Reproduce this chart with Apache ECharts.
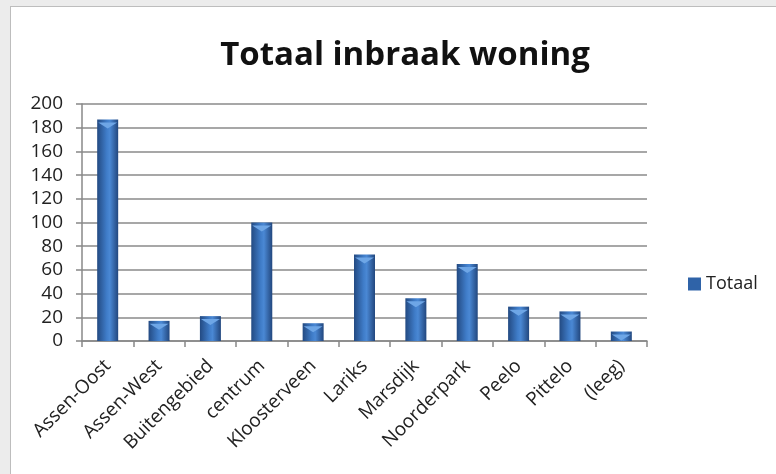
<!DOCTYPE html>
<html>
<head>
<meta charset="utf-8">
<script src="https://cdn.jsdelivr.net/npm/echarts@6/dist/echarts.min.js"></script>
<style>
html,body{margin:0;padding:0;background:#ececec;}
#frame{position:absolute;left:10px;top:6px;width:780px;height:480px;background:#fff;border:1px solid #bdbdbd;}
#chart{position:absolute;left:0;top:0;width:776px;height:474px;}
</style>
</head>
<body>
<div id="frame"></div>
<div id="chart"></div>
<script>
var categories = ['Assen-Oost','Assen-West','Buitengebied','centrum','Kloosterveen','Lariks','Marsdijk','Noorderpark','Peelo','Pittelo','(leeg)'];
var totaal = [187, 17, 21, 100, 15, 73, 36, 65, 29, 25, 8];
var seriesName = 'Totaal';
var titleText = 'Totaal inbraak woning';

var chart = echarts.init(document.getElementById('chart'));
var barGrad = new echarts.graphic.LinearGradient(0,0,1,0,[
  {offset:0,color:'#234a82'},
  {offset:0.45,color:'#3f7cc8'},
  {offset:0.6,color:'#4a88d4'},
  {offset:1,color:'#22477e'}
]);
chart.setOption({
  backgroundColor:'transparent',
  animation:false,
  title:{text:titleText,left:400,textAlign:'center',top:34,
    textStyle:{fontFamily:'Open Sans',fontWeight:'bold',fontSize:33,color:'#111'}},
  legend:{data:[{name:seriesName,icon:'rect',itemStyle:{color:'#2f63a8'}}],left:683,top:270,orient:'vertical',
    itemWidth:13,itemHeight:13,itemGap:4,
    textStyle:{fontFamily:'Open Sans',fontSize:18,color:'#222'}},
  grid:{left:82,right:129,top:104,bottom:133},
  xAxis:{type:'category',data:categories,
    axisLine:{lineStyle:{color:'#888',width:1.5}},
    axisTick:{show:true,length:6,lineStyle:{color:'#888',width:1.5}},
    axisLabel:{rotate:45,fontFamily:'Open Sans',fontSize:19,color:'#222',margin:22,interval:0}},
  yAxis:{type:'value',min:0,max:200,interval:20,
    axisLine:{show:true,lineStyle:{color:'#888',width:1.5}},
    axisTick:{show:true,length:6,lineStyle:{color:'#888',width:1.5}},
    splitLine:{lineStyle:{color:'#8a8a8a',width:1.5}},
    axisLabel:{fontFamily:'Open Sans',fontSize:19,color:'#222',margin:19}},
  series:[
    {name:seriesName,type:'bar',data:totaal,barWidth:21,
      itemStyle:{color:barGrad},z:2},
    {name:seriesName+'_cap',type:'pictorialBar',data:totaal,symbol:'triangle',symbolRotate:180,
      symbolSize:[19,6],symbolPosition:'end',symbolOffset:[0,'50%'],
      itemStyle:{color:'#6ea6e6'},z:3,tooltip:{show:false},legendHoverLink:false}
  ]
});
</script>
</body>
</html>
